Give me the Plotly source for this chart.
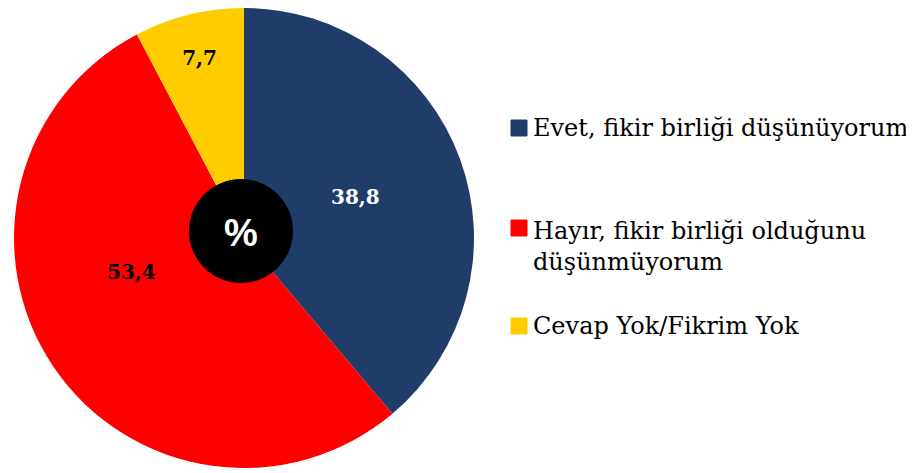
import plotly.graph_objects as go

categories = ["Evet, fikir birliği düşünüyorum",
              "Hayır, fikir birliği olduğunu düşünmüyorum",
              "Cevap Yok/Fikrim Yok"]
legend_labels = ["Evet, fikir birliği düşünüyorum",
                 "Hayır, fikir birliği olduğunu<br>düşünmüyorum",
                 "Cevap Yok/Fikrim Yok"]
values = [38.8, 53.4, 7.7]
colors = ["#1F3D68", "#FE0000", "#FFCC00"]
text_colors = ["white", "black", "black"]

W, H = 914, 473
OX, OY = 8, 8  # page body margin offset
SERIF = "Palatino Linotype, Book Antiqua, Palatino, DejaVu Serif, serif"


def px(x):
    return (x - OX) / W


def py(y):
    return min(1.0, 1 - (y - OY) / H)


fig = go.Figure()
fig.add_trace(go.Pie(
    labels=categories, values=values, sort=False, direction="clockwise",
    rotation=0,
    marker=dict(colors=colors, line=dict(width=0)),
    texttemplate=["%{value:.1f}", " ", "%{value:.1f}"], textposition="inside",
    insidetextorientation="horizontal",
    insidetextfont=dict(family=SERIF, size=20, color=text_colors, weight="bold"),
    domain=dict(x=[px(14), px(474)], y=[py(468), py(8)]),
    showlegend=False, hoverinfo="label+value",
))

shapes = []
annotations = []
# red slice label
annotations.append(dict(x=px(131), y=py(272), xref="paper", yref="paper",
                        xanchor="center", yanchor="middle",
                        text=f"{values[1]:.1f}".replace(".", ","), showarrow=False,
                        font=dict(family=SERIF, size=20, color=text_colors[1], weight="bold")))
# center badge
cx, cy, r = 241, 231, 52
shapes.append(dict(type="circle", xref="paper", yref="paper",
                   x0=px(cx - r), x1=px(cx + r),
                   y0=py(cy + r), y1=py(cy - r),
                   fillcolor="black", line=dict(width=0)))
annotations.append(dict(x=px(cx), y=py(cy + 2), xref="paper", yref="paper",
                        xanchor="center", yanchor="middle",
                        text="%", showarrow=False,
                        font=dict(family="Arial, Liberation Sans, sans-serif",
                                  size=38, color="white", weight="bold")))

# legend
leg_y = [128, 246, 326]
sq_y = [128, 228, 326]
for lab, col, ty, sy in zip(legend_labels, colors, leg_y, sq_y):
    shapes.append(dict(type="rect", xref="paper", yref="paper",
                       x0=px(511), x1=px(527), y0=py(sy + 8), y1=py(sy - 8),
                       fillcolor=col, line=dict(color=col, width=1)))
    annotations.append(dict(x=px(531), y=py(ty), xref="paper", yref="paper",
                            xanchor="left", yanchor="middle", align="left",
                            text=lab, showarrow=False,
                            font=dict(family=SERIF, size=24, color="black")))

fig.update_layout(width=W, height=H, margin=dict(l=0, r=0, t=0, b=0),
                  paper_bgcolor="white", plot_bgcolor="white",
                  separators=",.", shapes=shapes, annotations=annotations)
fig.write_html("out.html")
